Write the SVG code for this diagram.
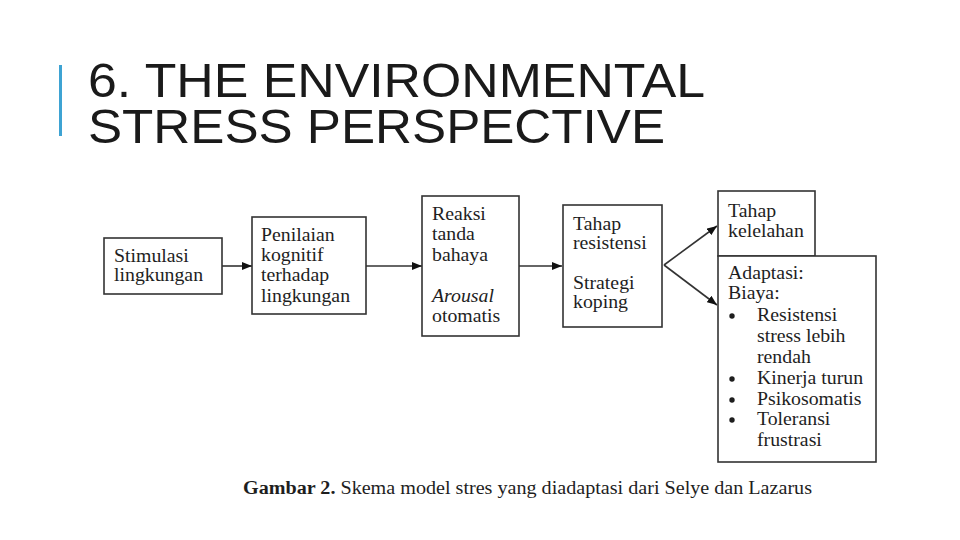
<svg xmlns="http://www.w3.org/2000/svg" width="960" height="540" viewBox="0 0 960 540">
<style>
.ttl{font-family:"Liberation Sans",Arial,sans-serif;font-size:49px;fill:#1a1a1a}
.box{fill:#fff;stroke:#333;stroke-width:1.6}
.t{font-family:"Liberation Serif","Times New Roman",serif;font-size:18px;fill:#1e1e1e}
.ln{stroke:#333;stroke-width:1.6;fill:none}
.cap{font-family:"Liberation Serif","Times New Roman",serif;font-size:18px;fill:#1e1e1e}
</style>
<defs>
<marker id="ah" viewBox="0 0 10 8" refX="10" refY="4" markerWidth="10" markerHeight="8" markerUnits="userSpaceOnUse" orient="auto">
<path d="M0,0 L10,4 L0,8 Z" fill="#111"/>
</marker>
</defs>
<rect width="960" height="540" fill="#fff"/>
<g id="title">
<rect x="59" y="65" width="3" height="71" fill="#3ea3d3"/>
<text class="ttl" x="88" y="97" textLength="617" lengthAdjust="spacingAndGlyphs">6. THE ENVIRONMENTAL</text>
<text class="ttl" x="88" y="143" textLength="577" lengthAdjust="spacingAndGlyphs">STRESS PERSPECTIVE</text>
</g>
<g id="connectors">
<line class="ln" x1="222" y1="266" x2="252" y2="266" marker-end="url(#ah)"/>
<line class="ln" x1="366" y1="266" x2="422" y2="266" marker-end="url(#ah)"/>
<line class="ln" x1="519" y1="266" x2="562" y2="266" marker-end="url(#ah)"/>
<line class="ln" x1="664" y1="265" x2="717" y2="226" marker-end="url(#ah)"/>
<line class="ln" x1="664" y1="265" x2="717" y2="305" marker-end="url(#ah)"/>
</g>
<g id="n1">
<rect class="box" x="104" y="238" width="118" height="56"/>
<text class="t" transform="translate(114,0) scale(1.1,1)"><tspan x="0" y="262">Stimulasi</tspan><tspan x="0" y="281">lingkungan</tspan></text>
</g>
<g id="n2">
<rect class="box" x="252" y="217" width="114" height="97"/>
<text class="t" transform="translate(261,0) scale(1.1,1)"><tspan x="0" y="241">Penilaian</tspan><tspan x="0" y="261">kognitif</tspan><tspan x="0" y="281">terhadap</tspan><tspan x="0" y="302">lingkungan</tspan></text>
</g>
<g id="n3">
<rect class="box" x="422" y="196" width="97" height="140"/>
<text class="t" transform="translate(432,0) scale(1.1,1)"><tspan x="0" y="220">Reaksi</tspan><tspan x="0" y="240">tanda</tspan><tspan x="0" y="261">bahaya</tspan><tspan x="0" y="302" font-style="italic">Arousal</tspan><tspan x="0" y="322">otomatis</tspan></text>
</g>
<g id="n4">
<rect class="box" x="563" y="205" width="99" height="122"/>
<text class="t" transform="translate(573,0) scale(1.1,1)"><tspan x="0" y="230">Tahap</tspan><tspan x="0" y="249">resistensi</tspan><tspan x="0" y="289">Strategi</tspan><tspan x="0" y="308">koping</tspan></text>
</g>
<g id="n5">
<rect class="box" x="718" y="191" width="97" height="65"/>
<text class="t" transform="translate(728,0) scale(1.1,1)"><tspan x="0" y="217">Tahap</tspan><tspan x="0" y="237">kelelahan</tspan></text>
</g>
<g id="n6">
<rect class="box" x="718" y="256" width="158" height="206"/>
<text class="t" transform="translate(728,0) scale(1.1,1)"><tspan x="0" y="279">Adaptasi:</tspan><tspan x="0" y="299">Biaya:</tspan></text>
<g fill="#1e1e1e">
<circle cx="732" cy="316" r="2.7"/>
<circle cx="732" cy="379" r="2.7"/>
<circle cx="732" cy="400" r="2.7"/>
<circle cx="732" cy="420" r="2.7"/>
</g>
<text class="t" transform="translate(757,0) scale(1.1,1)"><tspan x="0" y="321">Resistensi</tspan><tspan x="0" y="342">stress lebih</tspan><tspan x="0" y="363">rendah</tspan><tspan x="0" y="384">Kinerja turun</tspan><tspan x="0" y="405">Psikosomatis</tspan><tspan x="0" y="425">Toleransi</tspan><tspan x="0" y="446">frustrasi</tspan></text>
</g>
<g id="caption">
<text class="cap" x="243" y="494" textLength="569" lengthAdjust="spacingAndGlyphs"><tspan font-weight="bold">Gambar 2.</tspan> Skema model stres yang diadaptasi dari Selye dan Lazarus</text>
</g>
</svg>
